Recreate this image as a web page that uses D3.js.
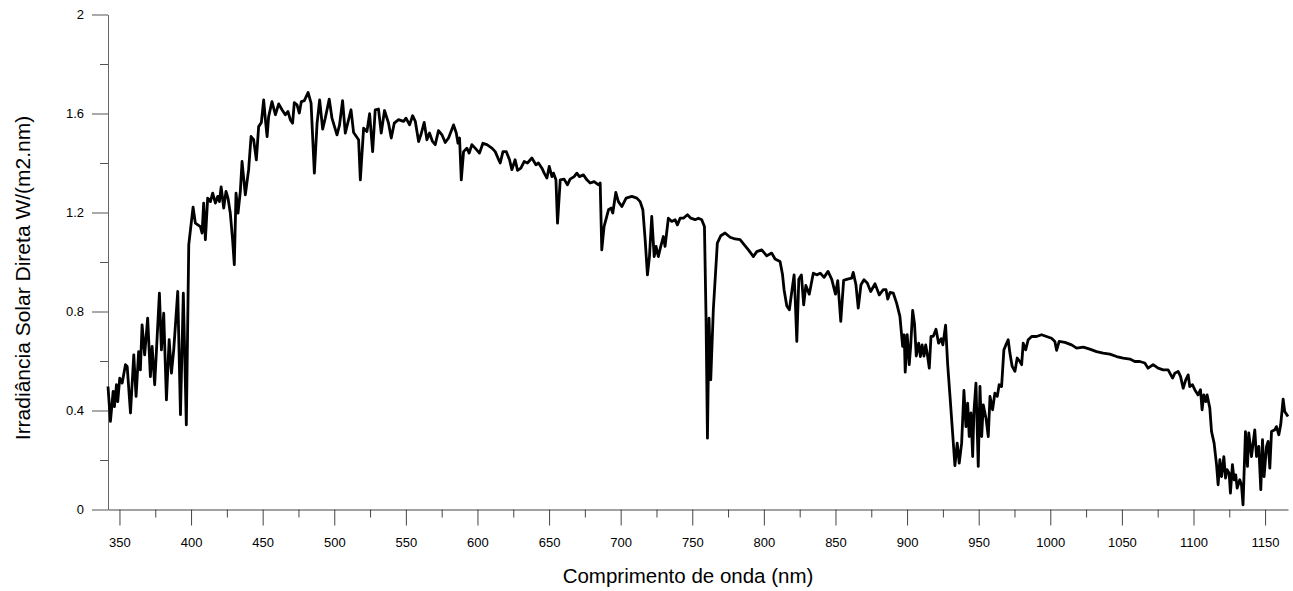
<!DOCTYPE html>
<html lang="pt">
<head>
<meta charset="utf-8">
<title>Irradiância Solar Direta</title>
<script src="https://d3js.org/d3.v7.min.js"></script>
<style>
  body { margin: 0; background: #fff; }
  svg text { font-family: "Liberation Sans", Arial, sans-serif; fill: #000; }
</style>
</head>
<body>
<script>
// comprimento de onda (nm)
var wavelength = [
  342, 343.7, 345.6, 346.5, 347.9, 348.8, 350.2, 351.9, 354.2, 355.4,
  357.7, 360.0, 361.6, 363.4, 364.6, 365.8, 367.6, 369.7, 371.6, 372.8,
  374.6, 377.9, 379.3, 380.9, 382.8, 384.7, 386.3, 387.9, 390.7, 392.6,
  394.6, 396.7, 398.4, 401.4, 403.0, 406.5, 407.7, 408.8, 410.0, 411.6,
  413.5, 415.1, 417.0, 418.6, 419.8, 421.0, 422.8, 424.4, 425.8, 427.4,
  429.0, 430.2, 431.4, 432.8, 434.4, 435.6, 437.9, 440.2, 441.9, 443.7,
  445.6, 447.2, 449.1, 450.7, 451.9, 453.1, 454.2, 456.5, 458.9, 461.2,
  463.5, 465.8, 467.7, 469.3, 470.9, 472.1, 474.0, 475.6, 477.0, 479.1,
  481.7, 483.8, 486.1, 488.0, 489.8, 491.9, 493.7, 496.5, 498.4, 501.9,
  503.7, 505.8, 507.7, 511.7, 513.5, 517.0, 518.2, 520.5, 522.8, 524.7,
  526.8, 528.6, 530.9, 532.8, 535.1, 537.9, 539.8, 541.9, 544.9, 548.4,
  550.1, 552.6, 554.7, 556.6, 558.9, 560.5, 562.8, 564.7, 566.5, 568.6,
  570.5, 572.8, 575.2, 577.5, 579.8, 583.3, 585.2, 586.4, 587.5, 588.7,
  590.3, 592.6, 594.2, 596.1, 598.4, 601.4, 603.8, 606.6, 610.1, 612.4,
  614.3, 615.9, 617.8, 620.1, 622.4, 624.0, 626.3, 628.0, 630.3, 632.6,
  634.9, 638.0, 640.8, 642.6, 645.0, 646.6, 648.5, 650.1, 652.0, 653.1,
  654.8, 655.9, 657.8, 660.5, 662.8, 664.7, 667.5, 669.4, 671.2, 674.0,
  676.4, 678.7, 681.5, 684.5, 685.7, 686.8, 688.4, 691.5, 693.3, 694.5,
  696.6, 698.4, 700.8, 703.8, 707.8, 711.3, 713.6, 715.5, 717.1, 718.7,
  720.1, 721.7, 723.4, 724.7, 726.3, 728.0, 729.8, 731.0, 733.3, 735.7,
  738.0, 739.6, 741.5, 743.8, 746.6, 749.0, 752.0, 754.3, 756.6, 758.5,
  759.6, 760.6, 761.7, 762.9, 764.7, 767.5, 769.9, 772.9, 776.4, 779.9,
  783.4, 786.2, 789.2, 792.7, 795.0, 798.5, 802.0, 805.5, 807.8, 811.3,
  813.0, 814.1, 816.0, 817.8, 819.5, 821.1, 821.8, 823.0, 824.4, 826.2,
  827.8, 829.3, 831.7, 834.5, 836.9, 839.4, 842.0, 844.8, 847.4, 850.0,
  851.6, 853.7, 855.7, 858.4, 861.3, 862.4, 864.3, 865.9, 867.8, 869.9,
  872.2, 874.6, 877.6, 880.6, 883.4, 885.3, 886.5, 888.1, 890.4, 892.7,
  895.0, 896.9, 898.0, 898.7, 900.1, 901.5, 902.5, 903.9, 905.2, 906.4,
  908.1, 909.3, 910.5, 911.8, 913.0, 914.2, 915.5, 916.7, 918.3, 920.2,
  922.0, 923.8, 925.0, 926.9, 928.3, 929.9, 931.8, 933.4, 935.0, 936.4,
  938.1, 939.7, 941.1, 942.3, 943.4, 944.6, 945.8, 946.7, 948.1, 949.7,
  950.9, 952.1, 953.2, 955.1, 956.7, 957.9, 959.7, 961.3, 963.0, 964.3,
  966.0, 967.6, 969.0, 970.6, 971.8, 973.4, 975.3, 976.9, 978.8, 980.0,
  981.1, 982.8, 984.6, 987.0, 990.4, 993.9, 997.4, 1000.9, 1003.2, 1004.4,
  1006.2, 1010.2, 1014.9, 1018.4, 1023.0, 1027.6, 1032.3, 1036.9, 1041.6, 1046.3,
  1050.9, 1055.6, 1059.0, 1062.5, 1066.0, 1068.3, 1071.8, 1075.3, 1078.8, 1082.3,
  1085.4, 1087.0, 1089.3, 1091.0, 1092.8, 1094.6, 1096.3, 1097.4, 1099.3, 1100.9,
  1103.2, 1104.9, 1106.0, 1107.2, 1108.6, 1109.5, 1111.4, 1112.6, 1114.4, 1116.1,
  1117.2, 1118.4, 1119.6, 1121.2, 1122.4, 1123.5, 1124.9, 1125.8, 1127.2, 1128.4,
  1129.5, 1130.5, 1132.3, 1133.5, 1134.6, 1136.3, 1137.7, 1138.6, 1140.5, 1142.8,
  1144.0, 1145.6, 1147.0, 1148.2, 1149.3, 1151.0, 1152.1, 1153.3, 1154.5, 1156.8,
  1157.9, 1159.6, 1160.9, 1162.6, 1163.7, 1166.0
];

// irradiancia W/(m2.nm), same order
var irradiance = [
  0.497, 0.356, 0.477, 0.416, 0.504, 0.436, 0.531, 0.511, 0.585, 0.578,
  0.39, 0.625, 0.457, 0.638, 0.564, 0.746, 0.625, 0.773, 0.537, 0.659,
  0.504, 0.874, 0.645, 0.793, 0.443, 0.686, 0.551, 0.645, 0.881, 0.383,
  0.874, 0.342, 1.07, 1.222, 1.157, 1.143, 1.117, 1.238, 1.09, 1.258,
  1.244, 1.278, 1.238, 1.265, 1.244, 1.303, 1.218, 1.285, 1.258, 1.198,
  1.09, 0.989, 1.278, 1.198, 1.285, 1.406, 1.271, 1.373, 1.507, 1.494,
  1.413, 1.547, 1.564, 1.655, 1.575, 1.507, 1.588, 1.648, 1.595, 1.639,
  1.615, 1.595, 1.608, 1.575, 1.561, 1.644, 1.635, 1.602, 1.648, 1.652,
  1.685, 1.642, 1.359, 1.561, 1.655, 1.537, 1.581, 1.658, 1.581, 1.514,
  1.554, 1.652, 1.521, 1.615, 1.523, 1.494, 1.332, 1.541, 1.527, 1.599,
  1.446, 1.615, 1.618, 1.521, 1.612, 1.561, 1.501, 1.561, 1.575, 1.568,
  1.581, 1.554, 1.591, 1.568, 1.487, 1.514, 1.564, 1.494, 1.521, 1.487,
  1.474, 1.531, 1.514, 1.483, 1.501, 1.554, 1.521, 1.48, 1.501, 1.332,
  1.446, 1.46, 1.44, 1.474, 1.46, 1.44, 1.48, 1.474, 1.46, 1.446,
  1.42, 1.40, 1.446, 1.446, 1.413, 1.373, 1.413, 1.37, 1.379, 1.406,
  1.40, 1.42, 1.393, 1.40, 1.379, 1.359, 1.339, 1.386, 1.345, 1.359,
  1.332, 1.157, 1.332, 1.335, 1.312, 1.335, 1.345, 1.359, 1.345, 1.352,
  1.332, 1.319, 1.325, 1.312, 1.319, 1.049, 1.143, 1.211, 1.218, 1.198,
  1.281, 1.244, 1.224, 1.258, 1.265, 1.258, 1.244, 1.211, 1.09, 0.948,
  1.022, 1.184, 1.022, 1.063, 1.022, 1.063, 1.103, 1.063, 1.177, 1.164,
  1.171, 1.15, 1.177, 1.177, 1.191, 1.177, 1.171, 1.177, 1.171, 1.143,
  0.78, 0.288, 0.773, 0.524, 0.807, 1.076, 1.106, 1.117, 1.10, 1.093,
  1.09, 1.07, 1.049, 1.022, 1.042, 1.049, 1.025, 1.036, 1.012, 1.002,
  0.95, 0.888, 0.822, 0.807, 0.881, 0.948, 0.861, 0.679, 0.93, 0.948,
  0.827, 0.905, 0.87, 0.955, 0.948, 0.955, 0.938, 0.962, 0.93, 0.87,
  0.925, 0.76, 0.926, 0.931, 0.935, 0.958, 0.908, 0.814, 0.908, 0.928,
  0.915, 0.881, 0.912, 0.867, 0.888, 0.888, 0.85, 0.877, 0.874, 0.834,
  0.78, 0.659, 0.706, 0.555, 0.706, 0.585, 0.659, 0.804, 0.75, 0.62,
  0.672, 0.618, 0.665, 0.62, 0.665, 0.625, 0.571, 0.699, 0.7, 0.728,
  0.672, 0.69, 0.665, 0.745, 0.59, 0.463, 0.309, 0.177, 0.268, 0.187,
  0.268, 0.481, 0.335, 0.43, 0.295, 0.39, 0.214, 0.396, 0.511, 0.174,
  0.497, 0.295, 0.423, 0.369, 0.295, 0.457, 0.403, 0.47, 0.457, 0.504,
  0.497, 0.645, 0.665, 0.686, 0.632, 0.578, 0.558, 0.612, 0.598, 0.585,
  0.672, 0.645, 0.686, 0.699, 0.699, 0.706, 0.699, 0.692, 0.679, 0.643,
  0.679, 0.675, 0.665, 0.652, 0.656, 0.648, 0.638, 0.632, 0.628, 0.618,
  0.612, 0.608, 0.598, 0.598, 0.592, 0.571, 0.585, 0.571, 0.564, 0.564,
  0.531, 0.551, 0.558, 0.537, 0.49, 0.524, 0.544, 0.497, 0.504, 0.484,
  0.463, 0.484, 0.403, 0.463, 0.436, 0.463, 0.41, 0.315, 0.268, 0.181,
  0.10, 0.201, 0.133, 0.214, 0.127, 0.161, 0.147, 0.066, 0.181, 0.12,
  0.14, 0.086, 0.12, 0.10, 0.019, 0.315, 0.174, 0.309, 0.214, 0.322,
  0.214, 0.255, 0.08, 0.282, 0.133, 0.255, 0.275, 0.167, 0.315, 0.322,
  0.335, 0.302, 0.342, 0.446, 0.396, 0.376
];

var xTicks = [350, 400, 450, 500, 550, 600, 650, 700, 750, 800, 850, 900, 950, 1000, 1050, 1100, 1150];
var xMinorTicks = [375, 425, 475, 525, 575, 625, 675, 725, 775, 825, 875, 925, 975, 1025, 1075, 1125];
var yTicks = [0, 0.4, 0.8, 1.2, 1.6, 2];
var yTickLabels = ["0", "0.4", "0.8", "1.2", "1.6", "2"];
var yMinorTicks = [0.2, 0.6, 1.0, 1.4, 1.8];

var xTitle = "Comprimento de onda (nm)";
var yTitle = "Irradiância Solar Direta W/(m2.nm)";

var W = 1293, H = 591;
var plotLeft = 108, plotRight = 1288, plotTop = 14.5, plotBottom = 509.5;

var svg = d3.select("body").append("svg")
    .attr("width", W)
    .attr("height", H);

var x = d3.scaleLinear().domain([342, 1166]).range([plotLeft, plotRight]);
var y = d3.scaleLinear().domain([0, 2]).range([plotBottom, plotTop]);

// x axis
var xAxis = svg.append("g")
    .attr("transform", "translate(0," + plotBottom + ")")
    .call(d3.axisBottom(x).tickValues(xTicks).tickSize(16).tickSizeOuter(0).tickPadding(12)
        .tickFormat(d3.format("d")));
xAxis.select(".domain").attr("stroke", "#444");
xAxis.selectAll(".tick line").attr("stroke", "#444");
xAxis.selectAll("text").style("font-size", "13px");

svg.append("g")
    .attr("transform", "translate(0," + plotBottom + ")")
    .call(d3.axisBottom(x).tickValues(xMinorTicks).tickSize(8).tickFormat(""))
    .call(function(g){ g.select(".domain").remove(); })
    .selectAll(".tick line").attr("stroke", "#444");

// y axis
var yAxis = svg.append("g")
    .attr("transform", "translate(" + plotLeft + ",0)")
    .call(d3.axisLeft(y).tickValues(yTicks).tickSize(16).tickSizeOuter(0).tickPadding(8)
        .tickFormat(function(d, i){ return yTickLabels[i]; }));
yAxis.select(".domain").attr("stroke", "#666");
yAxis.selectAll(".tick line").attr("stroke", "#555");
yAxis.selectAll("text").style("font-size", "13px");

svg.append("g")
    .attr("transform", "translate(" + plotLeft + ",0)")
    .call(d3.axisLeft(y).tickValues(yMinorTicks).tickSize(8).tickFormat(""))
    .call(function(g){ g.select(".domain").remove(); })
    .selectAll(".tick line").attr("stroke", "#555");

// titles
svg.append("text")
    .attr("x", 688)
    .attr("y", 583)
    .attr("text-anchor", "middle")
    .style("font-size", "20.5px")
    .text(xTitle);

svg.append("text")
    .attr("transform", "translate(29.5,278) rotate(-90)")
    .attr("text-anchor", "middle")
    .style("font-size", "21px")
    .text(yTitle);

// spectrum line
var points = d3.zip(wavelength, irradiance);

svg.append("path")
    .datum(points)
    .attr("fill", "none")
    .attr("stroke", "#000")
    .attr("stroke-width", 2.8)
    .attr("stroke-linejoin", "round")
    .attr("d", d3.line()
        .x(function(d){ return x(d[0]); })
        .y(function(d){ return y(d[1]); }));
</script>
</body>
</html>
